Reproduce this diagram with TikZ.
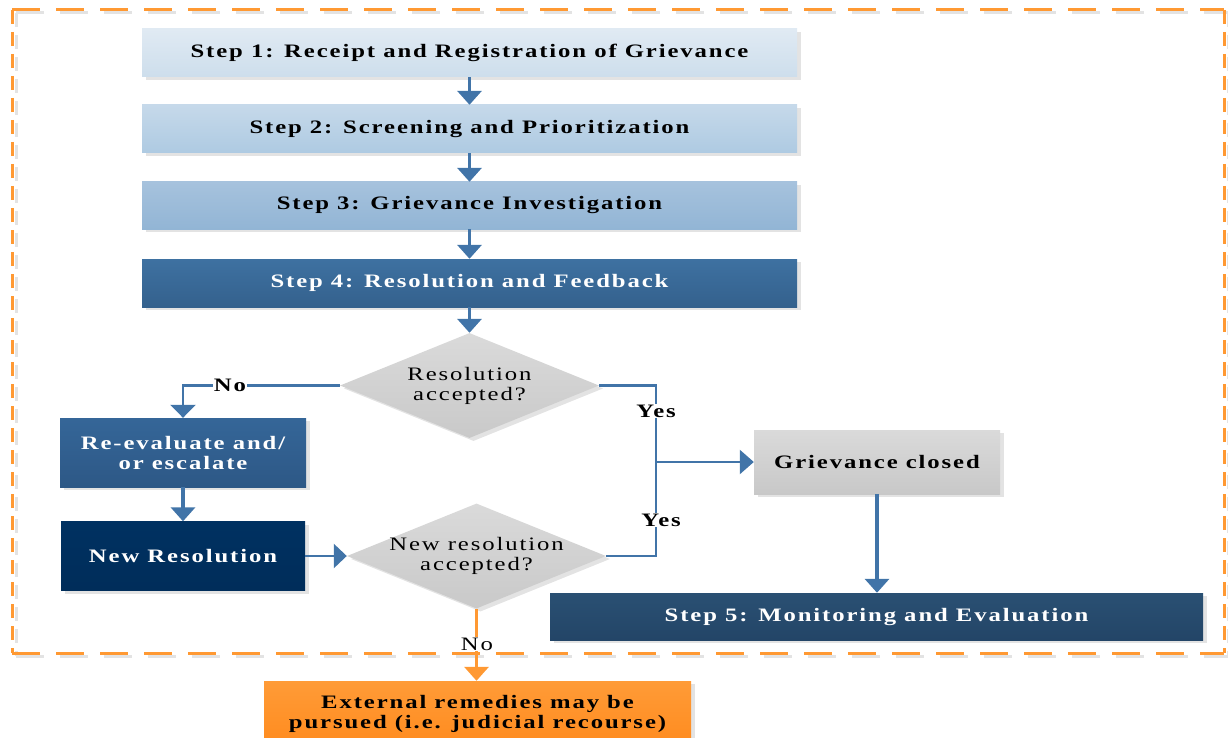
\documentclass[tikz,border=0pt]{standalone}
\usepackage{fontspec}
\setmainfont{Liberation Serif}[FakeStretch=1.3,LetterSpace=10]
\usetikzlibrary{arrows.meta,shapes.geometric,shadows}

\definecolor{flowblue}{RGB}{65,116,168}
\definecolor{frameorange}{RGB}{255,153,51}

\tikzset{
  boxshadow/.style={drop shadow={shadow xshift=4pt,shadow yshift=-3pt,fill=black!11,opacity=1}},
  stepbox/.style={rectangle,inner sep=0pt,align=center,boxshadow,
    font=\fontsize{19}{20}\selectfont\bfseries},
  decision/.style={diamond,inner sep=0pt,boxshadow,
    minimum width=259pt,minimum height=105pt,
    top color={rgb,255:red,218;green,218;blue,218},bottom color={rgb,255:red,201;green,201;blue,201}},
  decisiontext/.style={align=center,inner sep=0pt,font=\fontsize{19}{20}\selectfont},
  flow/.style={draw=flowblue,line width=3.5pt,-{Triangle[length=14pt,width=24pt]}},
  branch/.style={draw=flowblue,line width=2.5pt},
  yesno/.style={fill=white,inner sep=1pt,font=\fontsize{19}{20}\selectfont\bfseries},
}

\begin{document}
\begin{tikzpicture}[x=1pt,y=1pt,yscale=-1,xscale=1]
\useasboundingbox (0,0) rectangle (1228,738);

% dashed frame with its grey shade
\draw[black!11,line width=3pt,dash pattern=on 28pt off 16pt] (16,13) -- (1228,13) (16,656) -- (1228,656);
\draw[black!11,line width=3pt,dash pattern=on 14pt off 8pt] (16,13) -- (16,656) (1228,13) -- (1228,656);
\draw[frameorange,line width=3pt,dash pattern=on 28pt off 16pt] (12,10) -- (1224,10) (12,653) -- (1224,653);
\draw[frameorange,line width=3pt,dash pattern=on 14pt off 8pt] (12,10) -- (12,653) (1224,10) -- (1224,653);

% main steps
\node[stepbox,minimum width=655pt,minimum height=48pt,
  top color={rgb,255:red,224;green,234;blue,243},bottom color={rgb,255:red,205;green,222;blue,236}]
  (receipt) at (469.5,53) {Step 1: Receipt and Registration of Grievance};
\node[stepbox,minimum width=655pt,minimum height=48pt,
  top color={rgb,255:red,198;green,217;blue,234},bottom color={rgb,255:red,174;green,202;blue,226}]
  (screening) at (469.5,129) {Step 2: Screening and Prioritization};
\node[stepbox,minimum width=655pt,minimum height=47pt,
  top color={rgb,255:red,166;green,194;blue,221},bottom color={rgb,255:red,146;green,181;blue,213}]
  (investigation) at (469.5,205.5) {Step 3: Grievance Investigation};
\node[stepbox,minimum width=655pt,minimum height=48pt,text=white,
  top color={rgb,255:red,62;green,113;blue,161},bottom color={rgb,255:red,52;green,97;blue,141}]
  (resolution) at (469.5,283) {Step 4: Resolution and Feedback};

% decisions
\node[decision,label={[decisiontext]center:Resolution\\accepted?}] (accepted) at (469.5,385.5) {};
\node[decision,label={[decisiontext]center:New resolution\\accepted?}] (newaccepted) at (476.5,556) {};

% left branch
\node[stepbox,minimum width=246pt,minimum height=69pt,text=white,
  top color={rgb,255:red,53;green,102;blue,152},bottom color={rgb,255:red,45;green,88;blue,134}]
  (reeval) at (183,452.5) {Re-evaluate and/\\or escalate};
\node[stepbox,minimum width=244pt,minimum height=69pt,text=white,
  top color={rgb,255:red,0;green,49;blue,97},bottom color={rgb,255:red,0;green,45;blue,90}]
  (newres) at (183,556) {New Resolution};

% right branch
\node[stepbox,minimum width=246pt,minimum height=64pt,
  top color={rgb,255:red,218;green,218;blue,218},bottom color={rgb,255:red,200;green,200;blue,200}]
  (closed) at (877,462) {Grievance closed};
\node[stepbox,minimum width=653pt,minimum height=47pt,text=white,
  top color={rgb,255:red,42;green,80;blue,115},bottom color={rgb,255:red,35;green,69;blue,103}]
  (monitoring) at (876.5,616.5) {Step 5: Monitoring and Evaluation};

% outside the frame
\node[stepbox,minimum width=427pt,minimum height=66pt,
  top color={rgb,255:red,255;green,155;blue,55},bottom color={rgb,255:red,255;green,139;blue,30}]
  (external) at (477.5,714) {External remedies may be\\pursued (i.e. judicial recourse)};

\coordinate (join) at (656,462);

% connectors
\draw[flow] (receipt) -- (screening);
\draw[flow] (screening) -- (investigation);
\draw[flow] (investigation) -- (resolution);
\draw[flow] (resolution) -- (accepted);
\draw[branch,-{Triangle[length=13pt,width=25pt]}] (accepted.west) -| (reeval.north);
\draw[flow] (reeval) -- (newres);
\draw[branch,-{Triangle[length=13pt,width=24pt]}] (newres.east) -- (newaccepted.west);
\draw[branch] (accepted.east) -| (join);
\draw[branch] (newaccepted.east) -| (join);
\draw[branch,-{Triangle[length=14pt,width=24pt]}] (join) -- (closed.west);
\draw[flow] (closed.south) -- (closed.south |- monitoring.north);
\draw[frameorange,line width=3.3pt,-{Triangle[length=14pt,width=24pt]}] (newaccepted.south) -- (newaccepted.south |- external.north);

% branch labels
\node[yesno] (nolabel) at (230,385) {No};
\node[yesno] (yeslabel) at (656,411) {Yes};
\node[yesno] (yeslabeltwo) at (661,520) {Yes};
\node[yesno,font=\fontsize{19}{20}\selectfont] (nolabeltwo) at (477,644) {No};

\end{tikzpicture}
\end{document}
